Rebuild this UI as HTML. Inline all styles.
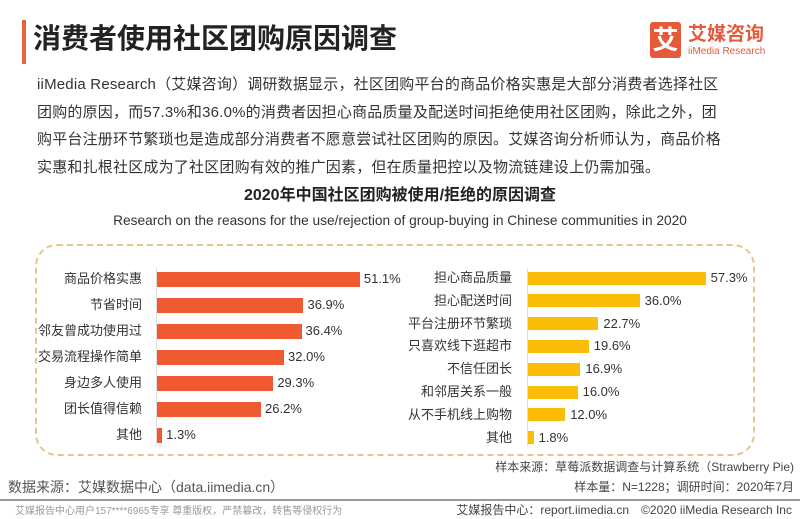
<!DOCTYPE html>
<html><head><meta charset="utf-8"><style>
body{margin:0;width:800px;height:519px;background:#fff;position:relative;overflow:hidden;font-family:"Liberation Sans","Noto Sans CJK SC",sans-serif;color:#333}
.a{position:absolute;white-space:nowrap}
.lbl{position:absolute;text-align:right;font-size:13px;color:#333;line-height:16px}
.bar{position:absolute}
.v{position:absolute;font-size:13px;color:#333;line-height:16px}
</style></head><body>
<div class="a" style="left:22px;top:20px;width:4px;height:44px;background:#e8643c"></div>
<div class="a" style="left:33px;top:21px;font-size:28px;font-weight:bold;color:#222;line-height:36px">消费者使用社区团购原因调查</div>
<div class="a" style="left:650px;top:22px;width:31px;height:36px;background:#e65a3a;border-radius:3px;color:#fff;font-size:26px;font-weight:bold;text-align:center;line-height:36px">艾</div>
<div class="a" style="left:688px;top:23px;font-size:19px;font-weight:bold;color:#e65a3a;line-height:24px">艾媒咨询</div>
<div class="a" style="left:688px;top:46px;font-size:10px;color:#e65a3a;line-height:12px">iiMedia Research</div>
<div class="a" style="left:37px;top:71px;font-size:15px;letter-spacing:0.2px;line-height:27.7px;color:#333">iiMedia Research（艾媒咨询）调研数据显示，社区团购平台的商品价格实惠是大部分消费者选择社区<br>团购的原因，而57.3%和36.0%的消费者因担心商品质量及配送时间拒绝使用社区团购，除此之外，团<br>购平台注册环节繁琐也是造成部分消费者不愿意尝试社区团购的原因。艾媒咨询分析师认为，商品价格<br>实惠和扎根社区成为了社区团购有效的推广因素，但在质量把控以及物流链建设上仍需加强。</div>
<div class="a" style="left:0;width:800px;text-align:center;top:186px;font-size:16px;font-weight:bold;color:#222;line-height:20px">2020年中国社区团购被使用/拒绝的原因调查</div>
<div class="a" style="left:0;width:800px;text-align:center;top:213px;font-size:13.7px;color:#333;line-height:16px">Research on the reasons for the use/rejection of group-buying in Chinese communities in 2020</div>
<div class="a" style="left:35px;top:244px;width:720px;height:212px;border:2px dashed #e6c58e;border-radius:22px;box-sizing:border-box"></div>
<div class="a" style="left:156px;top:268px;width:1px;height:178px;background:#ddd"></div>
<div class="a" style="left:527px;top:268px;width:1px;height:178px;background:#ddd"></div>
<div id="c"></div>
<div class="a" style="left:8px;top:478px;font-size:14px;color:#555;line-height:18px">数据来源：艾媒数据中心（data.iimedia.cn）</div>
<div class="a" style="right:6px;top:460px;font-size:12px;color:#444;line-height:15px">样本来源：草莓派数据调查与计算系统（Strawberry Pie)</div>
<div class="a" style="right:6px;top:480px;font-size:12px;color:#444;line-height:15px">样本量：N=1228；调研时间：2020年7月</div>
<div class="a" style="left:0;top:499px;width:800px;height:2px;background:#999"></div>
<div class="a" style="left:15px;top:505px;font-size:10px;color:#999;line-height:13px">艾媒报告中心用户157****6965专享 尊重版权，严禁篡改，转售等侵权行为</div>
<div class="a" style="right:8px;top:503px;font-size:12px;color:#444;line-height:15px">艾媒报告中心：report.iimedia.cn　©2020 iiMedia Research Inc</div>
<script>
var L=[["商品价格实惠",51.1],["节省时间",36.9],["邻友曾成功使用过",36.4],["交易流程操作简单",32.0],["身边多人使用",29.3],["团长值得信赖",26.2],["其他",1.3]];
var R=[["担心商品质量",57.3],["担心配送时间",36.0],["平台注册环节繁琐",22.7],["只喜欢线下逛超市",19.6],["不信任团长",16.9],["和邻居关系一般",16.0],["从不手机线上购物",12.0],["其他",1.8]];
var h="";
L.forEach(function(d,i){var y=279+i*26.0;var w=d[1]*3.97;
h+='<div class="lbl" style="left:30px;width:112px;top:'+(y-8)+'px">'+d[0]+'</div>';
h+='<div class="bar" style="left:157px;top:'+(y-7.5)+'px;width:'+w+'px;height:15px;background:#f05a32"></div>';
h+='<div class="v" style="left:'+(161+w)+'px;top:'+(y-8)+'px">'+d[1].toFixed(1)+'%</div>';});
R.forEach(function(d,i){var y=278+i*22.8;var w=d[1]*3.1;
h+='<div class="lbl" style="left:400px;width:112px;top:'+(y-8)+'px">'+d[0]+'</div>';
h+='<div class="bar" style="left:528px;top:'+(y-6.5)+'px;width:'+w+'px;height:13px;background:#fbbd08"></div>';
h+='<div class="v" style="left:'+(533+w)+'px;top:'+(y-8)+'px">'+d[1].toFixed(1)+'%</div>';});
document.getElementById("c").innerHTML=h;
</script>
</body></html>
